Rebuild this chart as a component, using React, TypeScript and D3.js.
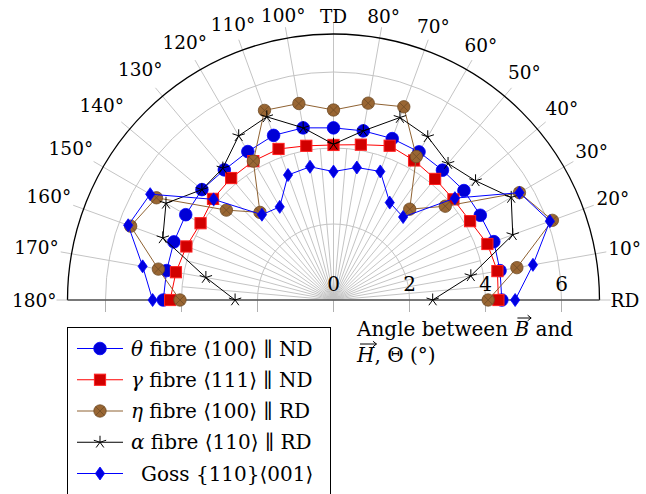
import { useRef, useEffect } from 'react';
import * as d3 from 'd3';

// angle (deg) of every measurement
const angles = [0, 10, 20, 30, 40, 50, 60, 70, 80, 90, 100, 110, 120, 130, 140, 150, 160, 170, 180];

// Theta (deg) for each texture component
const thetaFibre = [4.43, 4.45, 4.49, 4.46, 4.48, 4.46, 4.5, 4.52, 4.52, 4.53, 4.6, 4.61, 4.51, 4.47, 4.52, 4.49, 4.47, 4.46, 4.48];
const gammaFibre = [4.34, 4.38, 4.31, 4.15, 4.12, 4.16, 4.24, 4.32, 4.15, 4.08, 4.12, 4.23, 4.22, 4.19, 4.14, 4.04, 4.12, 4.21, 4.3];
const etaFibre = [4.07, 4.9, 6.13, 5.65, 3.84, 3.12, 4.36, 5.41, 5.26, 5.0, 5.25, 5.31, 4.22, 3.01, 3.68, 5.38, 5.68, 4.68, 4.04];
const alphaFibre = [2.61, 3.67, 5.02, 5.4, 4.88, 4.69, 4.96, 5.11, 4.52, 4.1, 4.6, 5.13, 4.99, 4.53, 4.52, 5.09, 4.78, 3.41, 2.59];
const gossTexture = [4.78, 5.33, 6.06, 5.65, 4.17, 2.85, 2.96, 3.6, 3.54, 3.38, 3.56, 3.5, 2.83, 2.93, 4.12, 5.57, 5.75, 5.1, 4.76];

const angleTicks = [0, 10, 20, 30, 40, 50, 60, 70, 80, 90, 100, 110, 120, 130, 140, 150, 160, 170, 180];
const angleTickLabels = ['RD', '10°', '20°', '30°', '40°', '50°', '60°', '70°', '80°', 'TD',
  '100°', '110°', '120°', '130°', '140°', '150°', '160°', '170°', '180°'];
const radialTicks = [0, 2, 4, 6];
const radialGrid = [2, 4, 6];

const legendGreek = ['θ', 'γ', 'η', 'α', ''];
const legendText = [' fibre ⟨100⟩ ∥ ND', ' fibre ⟨111⟩ ∥ ND', ' fibre ⟨100⟩ ∥ RD', ' fibre ⟨110⟩ ∥ RD', 'Goss {110}⟨001⟩'];

const FONT = "'DejaVu Serif', serif";

export default function App() {
  const svgRef = useRef(null);

  useEffect(() => {
    const svg = d3.select(svgRef.current);
    svg.selectAll('*').remove();

    const cx = 333.5, cy = 300;
    const r = d3.scaleLinear().domain([0, 7]).range([0, 266]);
    // d3 radial angle: 0 = up, clockwise. Polar 0deg = right, 90deg = up
    const a = d3.scaleLinear().domain([0, 180]).range([Math.PI / 2, -Math.PI / 2]);

    const g = svg.append('g').attr('transform', `translate(${cx},${cy})`);

    // minor radial grid (5deg) near the centre
    g.selectAll('.minor')
      .data(d3.range(5, 180, 10))
      .enter()
      .append('line')
      .attr('x1', 0).attr('y1', 0)
      .attr('x2', d => r(4) * Math.sin(a(d)))
      .attr('y2', d => -r(4) * Math.cos(a(d)))
      .attr('stroke', '#c4c4c4')
      .attr('stroke-width', 1);

    // major radial grid (10deg), runs a bit past the outer circle
    const rLab = 277;
    g.selectAll('.major')
      .data(angleTicks)
      .enter()
      .append('line')
      .attr('x1', 0).attr('y1', 0)
      .attr('x2', d => rLab * Math.sin(a(d)))
      .attr('y2', d => -rLab * Math.cos(a(d)))
      .attr('stroke', '#c4c4c4')
      .attr('stroke-width', 1);

    // circles
    radialGrid.forEach(v => {
      const p = d3.path();
      p.arc(0, 0, r(v), Math.PI, 2 * Math.PI);
      g.append('path').attr('d', p.toString()).attr('fill', 'none')
        .attr('stroke', '#c4c4c4').attr('stroke-width', 1);
    });
    const outer = d3.path();
    outer.arc(0, 0, r(7), Math.PI, 2 * Math.PI);
    g.append('path').attr('d', outer.toString()).attr('fill', 'none')
      .attr('stroke', '#000').attr('stroke-width', 1.3);

    // ticks below the base line
    const tickX = [0, ...radialTicks.filter(t => t > 0).flatMap(t => [r(t), -r(t)])];
    g.selectAll('.tick')
      .data(tickX)
      .enter()
      .append('line')
      .attr('x1', d => d).attr('x2', d => d)
      .attr('y1', 0).attr('y2', 12)
      .attr('stroke', '#b0b0b0')
      .attr('stroke-width', 1);

    // base line
    g.append('line')
      .attr('x1', -r(7)).attr('x2', r(7))
      .attr('y1', 0).attr('y2', 0)
      .attr('stroke', '#555').attr('stroke-width', 1.7);

    g.selectAll('.rlabel')
      .data(radialTicks)
      .enter()
      .append('text')
      .attr('x', d => r(d))
      .attr('y', -9)
      .attr('text-anchor', 'middle')
      .style('font-family', FONT)
      .style('font-size', '20px')
      .text(d => d);

    // series
    const series = [
      { values: thetaFibre, color: '#0000ff', mark: 'circle' },
      { values: gammaFibre, color: '#ff0000', mark: 'square' },
      { values: etaFibre, color: '#8f6232', mark: 'otimes' },
      { values: alphaFibre, color: '#000000', mark: 'star' },
      { values: gossTexture, color: '#0000ff', mark: 'diamond' },
    ];

    const drawMark = (sel, mark, x, y) => {
      if (mark === 'circle') {
        sel.append('circle').attr('cx', x).attr('cy', y).attr('r', 6.3)
          .attr('fill', '#0000d6').attr('stroke', '#0000ff').attr('stroke-width', 0.8);
      } else if (mark === 'square') {
        sel.append('rect').attr('x', x - 5.6).attr('y', y - 5.6).attr('width', 11.2).attr('height', 11.2)
          .attr('fill', '#d10000').attr('stroke', '#ff2020').attr('stroke-width', 1);
      } else if (mark === 'otimes') {
        const k = 6.2, q = k * 0.7071;
        sel.append('circle').attr('cx', x).attr('cy', y).attr('r', k)
          .attr('fill', '#996633').attr('stroke', '#6f4b26').attr('stroke-width', 0.8);
        sel.append('path')
          .attr('d', `M${x - q},${y - q}L${x + q},${y + q}M${x - q},${y + q}L${x + q},${y - q}`)
          .attr('stroke', '#6f4b26').attr('stroke-width', 0.8);
      } else if (mark === 'star') {
        const k = 6.5;
        const d = d3.range(5).map(i => {
          const t = -Math.PI / 2 + i * 2 * Math.PI / 5;
          return `M${x},${y}L${x + k * Math.cos(t)},${y + k * Math.sin(t)}`;
        }).join('');
        sel.append('path').attr('d', d).attr('stroke', '#000').attr('stroke-width', 1).attr('fill', 'none');
      } else if (mark === 'diamond') {
        sel.append('path')
          .attr('d', `M${x},${y - 6.5}L${x + 4.6},${y}L${x},${y + 6.5}L${x - 4.6},${y}Z`)
          .attr('fill', '#0000e0').attr('stroke', '#0000ff').attr('stroke-width', 0.8);
      }
    };

    const radial = d3.lineRadial()
      .angle(d => a(d.ang))
      .radius(d => r(d.val));

    series.forEach(s => {
      const pts = angles.map((ang, i) => ({ ang, val: s.values[i] }));
      g.append('path')
        .datum(pts)
        .attr('d', radial)
        .attr('fill', 'none')
        .attr('stroke', s.color)
        .attr('stroke-width', 1);
      const mg = g.append('g');
      pts.forEach(p => {
        drawMark(mg, s.mark, r(p.val) * Math.sin(a(p.ang)), -r(p.val) * Math.cos(a(p.ang)));
      });
    });

    // angle labels: pushed out along the ray by an amount depending on the text box
    angleTicks.forEach((ang, i) => {
      const fs = 18.5;
      const t = g.append('text')
        .attr('text-anchor', 'middle')
        .style('font-family', FONT)
        .style('font-size', `${fs}px`)
        .text(angleTickLabels[i]);
      const w = t.node().getComputedTextLength();
      const h = 14;
      const ux = Math.sin(a(ang)), uy = -Math.cos(a(ang));
      const dd = (w / 2) * Math.abs(ux) + (h / 2) * Math.abs(uy) + 4 * Math.abs(2 * ux * uy);
      const px = (rLab + dd) * ux;
      const py = (rLab + dd) * uy;
      t.attr('x', px).attr('y', py + 0.365 * fs);
    });

    // legend
    const lg = svg.append('g');
    lg.append('rect')
      .attr('x', 67.5).attr('y', 327.5)
      .attr('width', 263).attr('height', 200)
      .attr('fill', '#fff').attr('stroke', '#000').attr('stroke-width', 1);
    series.forEach((s, i) => {
      const y = 348.5 + i * 31.25;
      lg.append('line').attr('x1', 77).attr('x2', 123).attr('y1', y).attr('y2', y)
        .attr('stroke', s.color).attr('stroke-width', 1);
      drawMark(lg, s.mark, 100, y);
      const txt = lg.append('text')
        .attr('x', legendGreek[i] ? 131 : 141)
        .attr('y', y + 7)
        .style('font-family', FONT)
        .style('font-size', '20px')
        .style('white-space', 'pre');
      if (legendGreek[i]) txt.append('tspan').style('font-style', 'italic').text(legendGreek[i]);
      txt.append('tspan').text(legendText[i]);
    });

    // axis title with vector arrows
    const title = svg.append('g');
    const vecArrow = (x1, x2, y) => {
      title.append('path')
        .attr('d', `M${x1},${y}L${x2},${y}M${x2 - 3.5},${y - 2.8}L${x2},${y}L${x2 - 3.5},${y + 2.8}`)
        .attr('stroke', '#000').attr('stroke-width', 1).attr('fill', 'none');
    };
    const l1 = title.append('text')
      .attr('x', 357).attr('y', 336)
      .style('font-family', FONT).style('font-size', '20px').style('white-space', 'pre');
    l1.append('tspan').text('Angle between ');
    l1.append('tspan').style('font-style', 'italic').text('B');
    l1.append('tspan').text(' and');
    const eB = l1.node().getExtentOfChar(14);
    vecArrow(eB.x + 3, eB.x + eB.width + 2, 318);

    const l2 = title.append('text')
      .attr('x', 357).attr('y', 362)
      .style('font-family', FONT).style('font-size', '20px').style('white-space', 'pre');
    l2.append('tspan').style('font-style', 'italic').text('H');
    l2.append('tspan').text(', Θ (°)');
    const eH = l2.node().getExtentOfChar(0);
    vecArrow(eH.x + 3, eH.x + eH.width + 2, 344);
  }, []);

  return (
    <svg
      ref={svgRef}
      width={646}
      height={494}
      style={{ position: 'absolute', left: 0, top: 0, background: '#fff' }}
    />
  );
}
